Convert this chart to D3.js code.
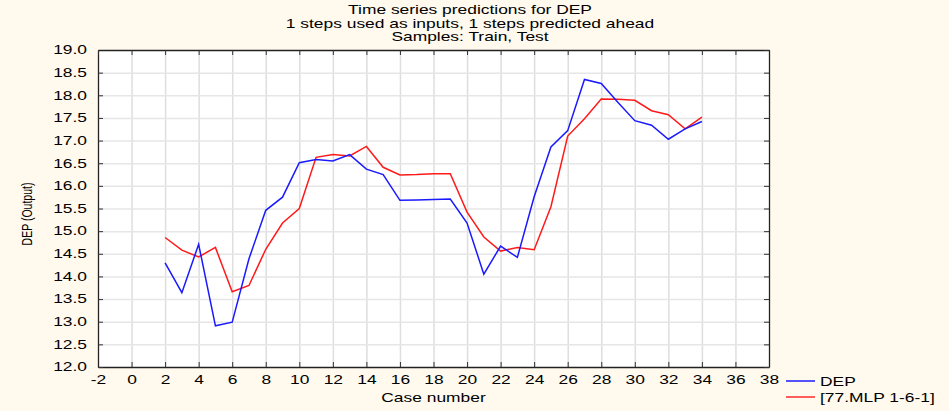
<!DOCTYPE html>
<html><head><meta charset="utf-8">
<script src="https://cdn.jsdelivr.net/npm/d3@7"></script>
<style>
html,body{margin:0;padding:0;background:#FFF9EE;}
svg{display:block;}
text{font-family:"Liberation Sans",Arial,sans-serif;fill:#000;}
</style></head>
<body><svg id="chart" width="949" height="411"></svg>
<script>
const titleLines = ["Time series predictions for DEP", "1 steps used as inputs, 1 steps predicted ahead", "Samples: Train, Test"];
const caseNumbers = [2,3,4,5,6,7,8,9,10,11,12,13,14,15,16,17,18,19,20,21,22,23,24,25,26,27,28,29,30,31,32,33,34];
const depValues = [14.30,13.64,14.71,12.91,12.99,14.39,15.46,15.75,16.51,16.58,16.55,16.69,16.37,16.25,15.68,15.69,15.70,15.71,15.18,14.05,14.67,14.42,15.76,16.86,17.22,18.35,18.26,17.84,17.44,17.34,17.03,17.26,17.42];
const mlpValues = [14.86,14.58,14.43,14.64,13.66,13.80,14.60,15.18,15.50,16.63,16.69,16.66,16.87,16.41,16.24,16.25,16.27,16.27,15.42,14.87,14.56,14.64,14.59,15.54,17.10,17.48,17.92,17.91,17.89,17.66,17.57,17.26,17.52];
const xTicks = [-2,0,2,4,6,8,10,12,14,16,18,20,22,24,26,28,30,32,34,36,38];
const yTicks = [12.0,12.5,13.0,13.5,14.0,14.5,15.0,15.5,16.0,16.5,17.0,17.5,18.0,18.5,19.0];
const seriesNames = ["DEP", "[77.MLP 1-6-1]"];
const xLabel = "Case number";
const yLabel = "DEP (Output)";

const svg = d3.select("#chart");
const L = 98, R = 769, T = 50, B = 367;
const SX = 1.45; // horizontal stretch of glyphs
const FS = 12;

const x = d3.scaleLinear().domain([-2, 38]).range([L, R]);
const y = d3.scaleLinear().domain([12, 19]).range([B, T]);

svg.append("rect").attr("x", L).attr("y", T).attr("width", R - L).attr("height", B - T).attr("fill", "#fff");

// grid
const grid = svg.append("g");
grid.append("g").attr("transform", `translate(0,${B})`)
  .call(d3.axisBottom(x).tickValues(xTicks.slice(1, -1)).tickSize(-(B - T)).tickFormat(""))
  .call(g => g.select(".domain").remove())
  .call(g => g.selectAll("line").attr("stroke", "#dedede").attr("stroke-width", 1.5));
grid.append("g").attr("transform", `translate(${L},0)`)
  .call(d3.axisLeft(y).tickValues(yTicks.slice(1, -1)).tickSize(-(R - L)).tickFormat(""))
  .call(g => g.select(".domain").remove())
  .call(g => g.selectAll("line").attr("stroke", "#e6e6e6").attr("stroke-width", 1.5));

// axes with inside ticks
const ax = svg.append("g").attr("transform", `translate(0,${B})`)
  .call(d3.axisBottom(x).tickValues(xTicks).tickSize(-5).tickPadding(8).tickFormat(d => String(d)).tickSizeOuter(0));
const ay = svg.append("g").attr("transform", `translate(${L},0)`)
  .call(d3.axisLeft(y).tickValues(yTicks).tickSize(-5).tickPadding(11).tickFormat(d3.format(".1f")).tickSizeOuter(0));
const axT = svg.append("g").attr("transform", `translate(0,${T})`)
  .call(d3.axisTop(x).tickValues(xTicks).tickSize(-5).tickFormat("").tickSizeOuter(0));
const ayR = svg.append("g").attr("transform", `translate(${R},0)`)
  .call(d3.axisRight(y).tickValues(yTicks).tickSize(-5).tickFormat("").tickSizeOuter(0));
[ax, ay, axT, ayR].forEach(g => {
  g.select(".domain").attr("stroke", "#222").attr("stroke-width", 1.3);
  g.selectAll(".tick line").attr("stroke", "#333");
  g.selectAll("text").attr("font-size", FS).attr("font-family", "Liberation Sans, Arial, sans-serif").attr("fill", "#000");
});
ax.selectAll(".tick text").attr("dy", "0.71em").attr("transform", `scale(${SX},1)`);
ay.selectAll(".tick text").attr("x", -11 / SX).attr("transform", `scale(${SX},1)`);

// lines
const line = d3.line().x((d, i) => x(caseNumbers[i])).y(d => y(d));
svg.append("path").datum(mlpValues).attr("d", line).attr("fill", "none").attr("stroke", "#ff1a1a").attr("stroke-width", 1.5);
svg.append("path").datum(depValues).attr("d", line).attr("fill", "none").attr("stroke", "#1a1aff").attr("stroke-width", 1.5);

// titles
function sText(px, py, str, anchor, fs, sx) {
  const g = svg.append("g").attr("transform", `translate(${px},${py}) scale(${sx},1)`);
  return g.append("text").attr("text-anchor", anchor).attr("font-size", fs).text(str);
}
titleLines.forEach((s, i) => sText(470, 14 + i * 13.5, s, "middle", FS, SX));
sText((L + R) / 2, 402, xLabel, "middle", FS, SX);
svg.append("g").attr("transform", `translate(32,214) rotate(-90)`)
  .append("text").attr("text-anchor", "middle").attr("font-size", 10.5).attr("transform", `scale(1,${SX})`).text(yLabel);

// legend
const legColors = ["#1a1aff", "#ff2a2a"];
seriesNames.forEach((n, i) => {
  const ly = 381 + i * 16;
  svg.append("line").attr("x1", 786).attr("x2", 815).attr("y1", ly).attr("y2", ly).attr("stroke", legColors[i]).attr("stroke-width", 1.5);
  sText(820, ly + 4.5, n, "start", FS, SX);
});
</script></body></html>
